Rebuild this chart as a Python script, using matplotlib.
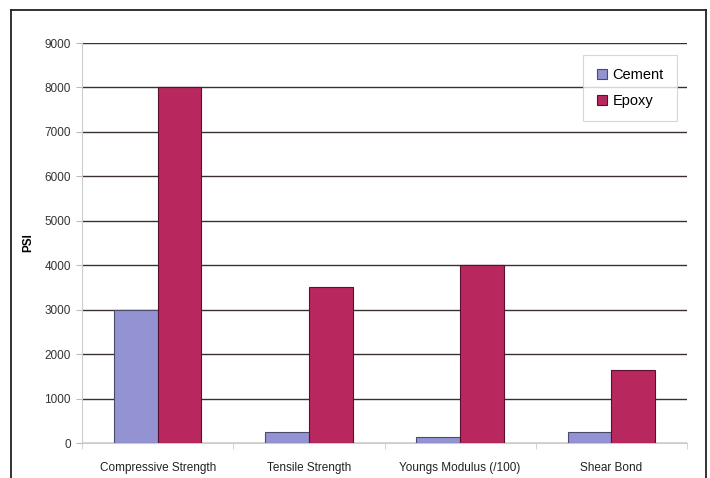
import numpy as np
import matplotlib
matplotlib.use("Agg")
import matplotlib.pyplot as plt
from matplotlib.lines import Line2D

plt.rcParams['font.family'] = ['Liberation Sans', 'DejaVu Sans']

categories = ["Compressive Strength", "Tensile Strength", "Youngs Modulus (/100)", "Shear Bond"]
cement = [3000, 250, 130, 250]
epoxy = [8000, 3500, 4000, 1650]
y_ticks = [0, 1000, 2000, 3000, 4000, 5000, 6000, 7000, 8000, 9000]

fig = plt.figure(figsize=(7.1, 4.78), dpi=100)
ax = fig.add_axes([82/710, 35/478, 605/710, 400/478])

x = np.arange(len(categories))
w = 0.29
ax.bar(x - w/2, cement, w, color="#9393d3", edgecolor="#4a4a6a", linewidth=0.8, label="Cement", zorder=3)
ax.bar(x + w/2, epoxy, w, color="#b8285f", edgecolor="#5a1030", linewidth=0.8, label="Epoxy", zorder=3)

ax.set_xlim(-0.5, len(categories) - 0.5)
ax.set_ylim(0, 9000)
ax.set_yticks(y_ticks)
ax.set_yticklabels([str(v) for v in y_ticks], fontsize=8.5, color="#333333")
ax.yaxis.grid(True, color="#3a3030", linewidth=1.0, zorder=0)
ax.set_xticks(x)
ax.set_xticklabels(categories, fontsize=8.5, color="#222222")
ax.tick_params(axis="x", length=0, pad=14)
ax.tick_params(axis="y", length=4, color="#bbbbbb", pad=4)
ax.set_xticks(np.arange(len(categories) + 1) - 0.5, minor=True)
ax.tick_params(axis="x", which="minor", length=4, color="#cccccc")

for side in ["top", "right"]:
    ax.spines[side].set_visible(False)
ax.spines["left"].set_color("#cccccc")
ax.spines["bottom"].set_color("#cccccc")

ax.set_ylabel("PSI", fontsize=8.5, fontweight="bold", labelpad=7)

leg = ax.legend(loc="upper right", bbox_to_anchor=((677 - 82)/605, (443 - 55)/400), borderaxespad=0,
                fontsize=10.5, frameon=True, fancybox=False, handlelength=0.7, handleheight=0.7,
                handletextpad=0.4, borderpad=0.9, labelspacing=0.8, edgecolor="#cccccc")
leg.get_frame().set_linewidth(0.8)
leg._legend_box.sep = 4

# outer frame (open at bottom)
fw, fh = 710, 478
frame_kw = dict(color="#222222", linewidth=1.3, transform=fig.transFigure)
fig.add_artist(Line2D([11/fw, 11/fw], [0, 1 - 10/fh], **frame_kw))
fig.add_artist(Line2D([11/fw, 706/fw], [1 - 10/fh, 1 - 10/fh], **frame_kw))
fig.add_artist(Line2D([706/fw, 706/fw], [0, 1 - 10/fh], **frame_kw))

fig.savefig("out.png", dpi=100)
